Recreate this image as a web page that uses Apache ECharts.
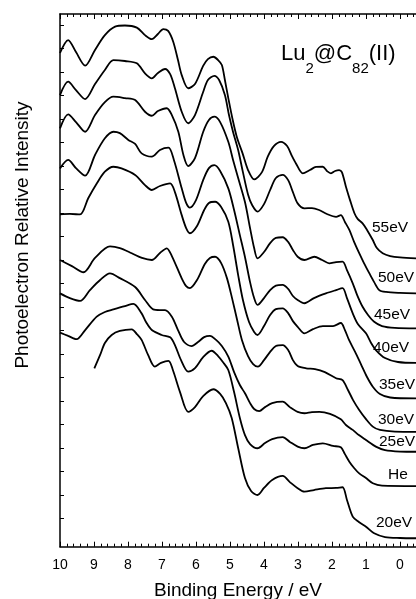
<!DOCTYPE html>
<html>
<head>
<meta charset="utf-8">
<script src="https://cdn.jsdelivr.net/npm/echarts@6/dist/echarts.min.js"></script>
<style>
html,body{margin:0;padding:0;background:#fff;}
#chart{width:416px;height:599px;}
</style>
</head>
<body>
<div id="chart"></div>
<script>
// Photon energy labels (top to bottom)
const photonLabels = ['55eV', '50eV', '45eV', '40eV', '35eV', '30eV', '25eV', 'He', '20eV'];
// x-axis tick labels
const energyTickLabels = ['10', '9', '8', '7', '6', '5', '4', '3', '2', '1', '0'];
// left-axis tick values (relative intensity units)
const intensityTicks = [1.2, 2.2, 3.2, 4.2, 5.2, 6.2, 7.2, 8.2, 9.2, 10.2, 11.2, 12.2, 13.2, 14.2, 15.2, 16.2, 17.2, 18.2, 19.2, 20.2, 21.2, 22.2];

// [binding energy (eV), relative intensity]
const spec55 = [[10.00,21.01],[9.76,21.56],[9.53,21.05],[9.26,20.47],[8.97,21.14],[8.68,21.77],[8.38,22.13],[8.09,22.18],[7.74,22.09],[7.50,21.77],[7.30,21.60],[7.12,21.82],[6.96,22.03],[6.82,21.95],[6.67,21.49],[6.53,20.71],[6.42,20.07],[6.23,19.51],[6.03,19.69],[5.79,20.46],[5.65,20.75],[5.49,20.85],[5.35,20.71],[5.24,20.50],[5.15,19.86],[5.05,19.09],[4.92,18.16],[4.79,17.39],[4.63,16.74],[4.47,16.03],[4.29,15.63],[4.06,15.94],[3.89,16.60],[3.71,17.05],[3.50,17.23],[3.32,17.05],[3.18,16.63],[3.06,16.31],[2.86,15.89],[2.65,16.03],[2.47,16.16],[2.27,16.17],[2.15,15.99],[2.03,15.89],[1.91,15.99],[1.79,16.03],[1.71,15.94],[1.59,15.32],[1.47,14.75],[1.34,14.19],[1.24,13.94],[1.10,13.76],[0.97,13.48],[0.80,13.05],[0.68,12.71],[0.51,12.49],[0.29,12.37],[0.00,12.31],[-0.50,12.27]];
const spec50 = [[10.00,19.22],[9.76,19.79],[9.53,19.43],[9.26,19.05],[8.97,19.69],[8.68,20.29],[8.43,20.71],[8.09,20.67],[7.74,20.57],[7.50,20.14],[7.30,19.93],[7.12,20.16],[6.91,20.33],[6.76,20.11],[6.62,19.51],[6.42,18.51],[6.23,18.02],[6.03,18.37],[5.79,19.35],[5.65,19.86],[5.46,20.04],[5.32,19.86],[5.15,19.22],[5.03,18.37],[4.91,17.65],[4.76,16.88],[4.62,15.94],[4.47,14.99],[4.35,14.54],[4.19,14.26],[4.00,14.58],[3.82,15.18],[3.65,15.69],[3.45,15.82],[3.29,15.60],[3.15,15.09],[3.01,14.61],[2.81,14.40],[2.59,14.41],[2.38,14.33],[2.15,14.16],[1.88,14.04],[1.74,14.11],[1.62,13.82],[1.49,13.48],[1.35,12.97],[1.20,12.49],[1.06,12.07],[0.90,11.63],[0.76,11.26],[0.61,10.92],[0.41,10.84],[0.00,10.80],[-0.50,10.78]];
const spec45 = [[10.00,17.80],[9.76,18.40],[9.53,18.07],[9.26,17.66],[8.97,18.37],[8.68,18.92],[8.43,19.15],[8.09,19.09],[7.79,19.01],[7.50,18.51],[7.30,18.34],[7.12,18.54],[6.86,18.66],[6.71,18.37],[6.52,17.66],[6.37,16.67],[6.23,16.20],[6.03,16.54],[5.79,17.65],[5.62,18.16],[5.46,18.30],[5.29,18.07],[5.05,17.23],[4.91,16.46],[4.76,15.69],[4.56,14.67],[4.41,13.56],[4.29,12.71],[4.19,12.27],[4.00,12.54],[3.82,12.92],[3.65,13.14],[3.45,13.17],[3.29,12.97],[3.15,12.63],[3.01,12.34],[2.81,12.20],[2.52,12.34],[2.29,12.20],[2.08,12.06],[1.88,12.11],[1.69,12.13],[1.56,11.77],[1.39,11.21],[1.26,10.71],[1.10,10.21],[0.94,9.86],[0.76,9.57],[0.53,9.39],[0.15,9.31],[-0.50,9.29]];
const spec40 = [[10.00,16.10],[9.76,16.46],[9.53,16.11],[9.26,15.79],[8.97,16.67],[8.68,17.38],[8.43,17.66],[8.24,17.60],[7.99,17.31],[7.79,17.14],[7.60,16.74],[7.30,16.60],[7.06,16.88],[6.81,16.98],[6.65,16.46],[6.42,15.25],[6.29,14.63],[6.18,14.43],[6.00,14.75],[5.79,15.60],[5.62,16.11],[5.46,16.24],[5.29,15.99],[5.05,15.25],[4.88,14.33],[4.71,13.26],[4.56,12.33],[4.41,11.26],[4.29,10.58],[4.19,10.29],[4.00,10.58],[3.82,10.92],[3.65,11.11],[3.45,11.14],[3.29,10.97],[3.15,10.67],[3.01,10.50],[2.81,10.36],[2.53,10.58],[2.18,10.78],[1.88,10.92],[1.69,11.00],[1.56,10.58],[1.39,9.93],[1.24,9.48],[1.00,9.08],[0.85,8.67],[0.71,8.37],[0.44,8.03],[0.06,7.86],[-0.50,7.82]];
const spec35 = [[10.00,14.14],[9.71,14.16],[9.41,14.14],[9.17,14.83],[8.91,15.48],[8.68,15.96],[8.43,16.17],[8.19,16.10],[7.79,15.82],[7.50,15.39],[7.30,15.18],[7.06,15.35],[6.76,15.46],[6.62,15.09],[6.42,14.11],[6.29,13.56],[6.18,13.34],[5.97,13.65],[5.76,14.33],[5.62,14.63],[5.44,14.68],[5.26,14.46],[5.05,13.83],[4.91,12.84],[4.76,11.56],[4.62,10.50],[4.44,9.56],[4.29,9.14],[4.19,9.01],[4.00,9.39],[3.82,9.86],[3.65,10.11],[3.45,10.14],[3.29,9.94],[3.15,9.60],[3.01,9.36],[2.81,9.08],[2.56,9.26],[2.27,9.39],[1.97,9.39],[1.74,9.52],[1.62,9.22],[1.50,8.80],[1.32,8.29],[1.15,7.77],[0.97,7.22],[0.80,6.81],[0.59,6.50],[0.29,6.35],[-0.50,6.31]];
const spec30 = [[10.00,12.20],[9.65,11.94],[9.31,11.68],[8.97,12.29],[8.53,12.78],[8.24,12.71],[7.89,12.49],[7.59,12.29],[7.30,12.20],[7.06,12.50],[6.86,12.70],[6.71,12.37],[6.42,11.42],[6.29,11.09],[6.18,11.00],[5.97,11.35],[5.74,12.03],[5.59,12.29],[5.44,12.34],[5.26,12.07],[5.09,11.43],[4.94,10.58],[4.79,9.65],[4.65,8.80],[4.47,8.11],[4.32,7.77],[4.18,7.66],[4.00,7.94],[3.82,8.29],[3.65,8.54],[3.45,8.58],[3.29,8.37],[3.15,7.94],[3.01,7.69],[2.76,7.59],[2.50,7.56],[2.21,7.43],[1.88,7.17],[1.69,7.09],[1.53,6.67],[1.38,6.24],[1.20,5.82],[1.00,5.43],[0.80,5.11],[0.59,4.97],[0.15,4.90],[-0.50,4.89]];
const spec25 = [[10.00,10.78],[9.71,10.58],[9.41,10.46],[9.12,10.92],[8.82,11.35],[8.53,11.63],[8.24,11.43],[7.79,11.05],[7.50,10.50],[7.26,10.10],[7.06,10.07],[6.91,10.07],[6.71,9.79],[6.53,9.22],[6.35,8.71],[6.13,8.54],[5.94,8.71],[5.76,8.92],[5.59,8.97],[5.41,8.80],[5.24,8.54],[5.05,8.09],[4.88,7.43],[4.71,6.88],[4.56,6.53],[4.41,6.11],[4.29,5.86],[4.14,5.77],[3.97,5.94],[3.76,6.11],[3.45,6.17],[3.24,5.94],[3.01,5.74],[2.81,5.68],[2.59,5.73],[2.37,5.74],[2.06,5.65],[1.74,5.42],[1.59,5.18],[1.39,4.97],[1.21,4.75],[1.00,4.54],[0.71,4.26],[0.44,4.11],[0.00,4.05],[-0.50,4.04]];
const specHe = [[10.00,9.11],[9.76,8.97],[9.51,8.83],[9.26,9.22],[8.92,9.79],[8.68,9.99],[8.43,10.10],[8.09,10.24],[7.84,10.33],[7.60,9.93],[7.47,9.56],[7.30,9.22],[7.01,9.01],[6.76,8.91],[6.62,8.58],[6.44,7.94],[6.23,7.45],[6.03,7.60],[5.79,8.07],[5.54,8.34],[5.35,8.11],[5.21,7.86],[5.05,7.52],[4.88,6.58],[4.71,5.48],[4.56,4.75],[4.41,4.37],[4.19,4.19],[3.97,4.41],[3.76,4.58],[3.45,4.66],[3.24,4.46],[3.01,4.26],[2.81,4.19],[2.56,4.33],[2.27,4.40],[1.97,4.29],[1.74,4.23],[1.62,3.94],[1.49,3.62],[1.35,3.35],[1.20,3.12],[1.00,2.92],[0.80,2.70],[0.53,2.60],[-0.50,2.58]];
const spec20 = [[8.99,7.59],[8.82,8.16],[8.68,8.67],[8.48,9.01],[8.24,9.18],[7.89,9.25],[7.74,9.05],[7.60,8.80],[7.41,8.16],[7.21,7.66],[7.03,7.82],[6.81,7.91],[6.68,7.52],[6.47,6.58],[6.23,5.74],[6.03,5.94],[5.79,6.41],[5.49,6.70],[5.29,6.50],[5.12,6.11],[4.95,5.48],[4.76,4.20],[4.56,2.92],[4.38,2.37],[4.19,2.20],[4.00,2.50],[3.76,2.84],[3.45,3.01],[3.24,2.75],[3.01,2.49],[2.81,2.34],[2.53,2.41],[2.18,2.49],[1.88,2.50],[1.69,2.53],[1.56,1.99],[1.39,1.28],[1.21,1.05],[1.00,0.85],[0.76,0.57],[0.44,0.41],[0.00,0.37],[-0.50,0.36]];

const spectra = [spec55, spec50, spec45, spec40, spec35, spec30, spec25, specHe, spec20];

// layout (pixel positions of the photon-energy labels)
const labelLayout = [[390,228],[396,278],[392,315],[391,348],[397,385],[396,420],[397,442],[398,475],[394,523]];

const FONT = "'Liberation Sans', Arial, Helvetica, sans-serif";

const chart = echarts.init(document.getElementById('chart'), null, {renderer: 'canvas'});

function xAxisDef(pos, showLabel) {
  return {
    type: 'value', position: pos, min: -1, max: 10, interval: 1, inverse: true,
    axisLine: {show: true, onZero: false, lineStyle: {color: '#000', width: 1.5}},
    axisTick: {show: true, inside: true, length: 5, lineStyle: {color: '#000', width: 1}},
    minorTick: {show: true, splitNumber: 5, length: 3, lineStyle: {color: '#000', width: 1}},
    splitLine: {show: false}, minorSplitLine: {show: false},
    axisLabel: {
      show: showLabel, color: '#000', fontSize: 14, fontFamily: FONT, margin: 11,
      formatter: function (v) { const i = 10 - Math.round(v); return (i >= 0 && i < energyTickLabels.length) ? energyTickLabels[i] : ''; }
    }
  };
}

const graphics = photonLabels.map(function (t, i) {
  return {
    type: 'text', x: labelLayout[i][0], y: labelLayout[i][1], silent: true,
    style: {text: t, fill: '#000', fontSize: 15.5, fontFamily: FONT, align: 'center', verticalAlign: 'middle'}
  };
});
graphics.push({
  type: 'text', x: 23, y: 235, rotation: Math.PI / 2, silent: true,
  style: {text: 'Photoelectron Relative Intensity', fill: '#000', fontSize: 19, fontFamily: FONT, align: 'center', verticalAlign: 'middle'}
});
graphics.push({
  type: 'text', x: 238, y: 591, silent: true,
  style: {text: 'Binding Energy / eV', fill: '#000', fontSize: 19, fontFamily: FONT, align: 'center', verticalAlign: 'middle'}
});
graphics.push({
  type: 'text', x: 281, y: 43, silent: true,
  style: {
    text: '{m|Lu}{s|2}{m|@C}{s|82}{m|(II)}', fill: '#000', fontFamily: FONT, align: 'left', verticalAlign: 'top',
    rich: {
      m: {fontSize: 22, lineHeight: 26, verticalAlign: 'top', fontFamily: FONT, fill: '#000'},
      s: {fontSize: 15, lineHeight: 15, padding: [18, 0, 0, 0], verticalAlign: 'top', fontFamily: FONT, fill: '#000'}
    }
  }
});

chart.setOption({
  animation: false,
  backgroundColor: '#fff',
  grid: {left: 60, top: 14, width: 374, height: 532.7, containLabel: false, outerBoundsMode: 'none'},
  xAxis: [xAxisDef('bottom', true), xAxisDef('top', false)],
  yAxis: {
    type: 'value', min: 0, max: 22.67,
    axisLine: {show: true, onZero: false, lineStyle: {color: '#000', width: 1.5}},
    axisTick: {show: true, inside: true, length: 4, customValues: intensityTicks, lineStyle: {color: '#000', width: 1}},
    axisLabel: {show: false},
    splitLine: {show: false}
  },
  series: spectra.map(function (s, i) {
    return {
      name: photonLabels[i], type: 'line', xAxisIndex: 0, yAxisIndex: 0,
      data: s, showSymbol: false, smooth: 0.3, silent: true,
      lineStyle: {color: '#000', width: 1.8}
    };
  }),
  graphic: graphics
});
</script>
</body>
</html>
